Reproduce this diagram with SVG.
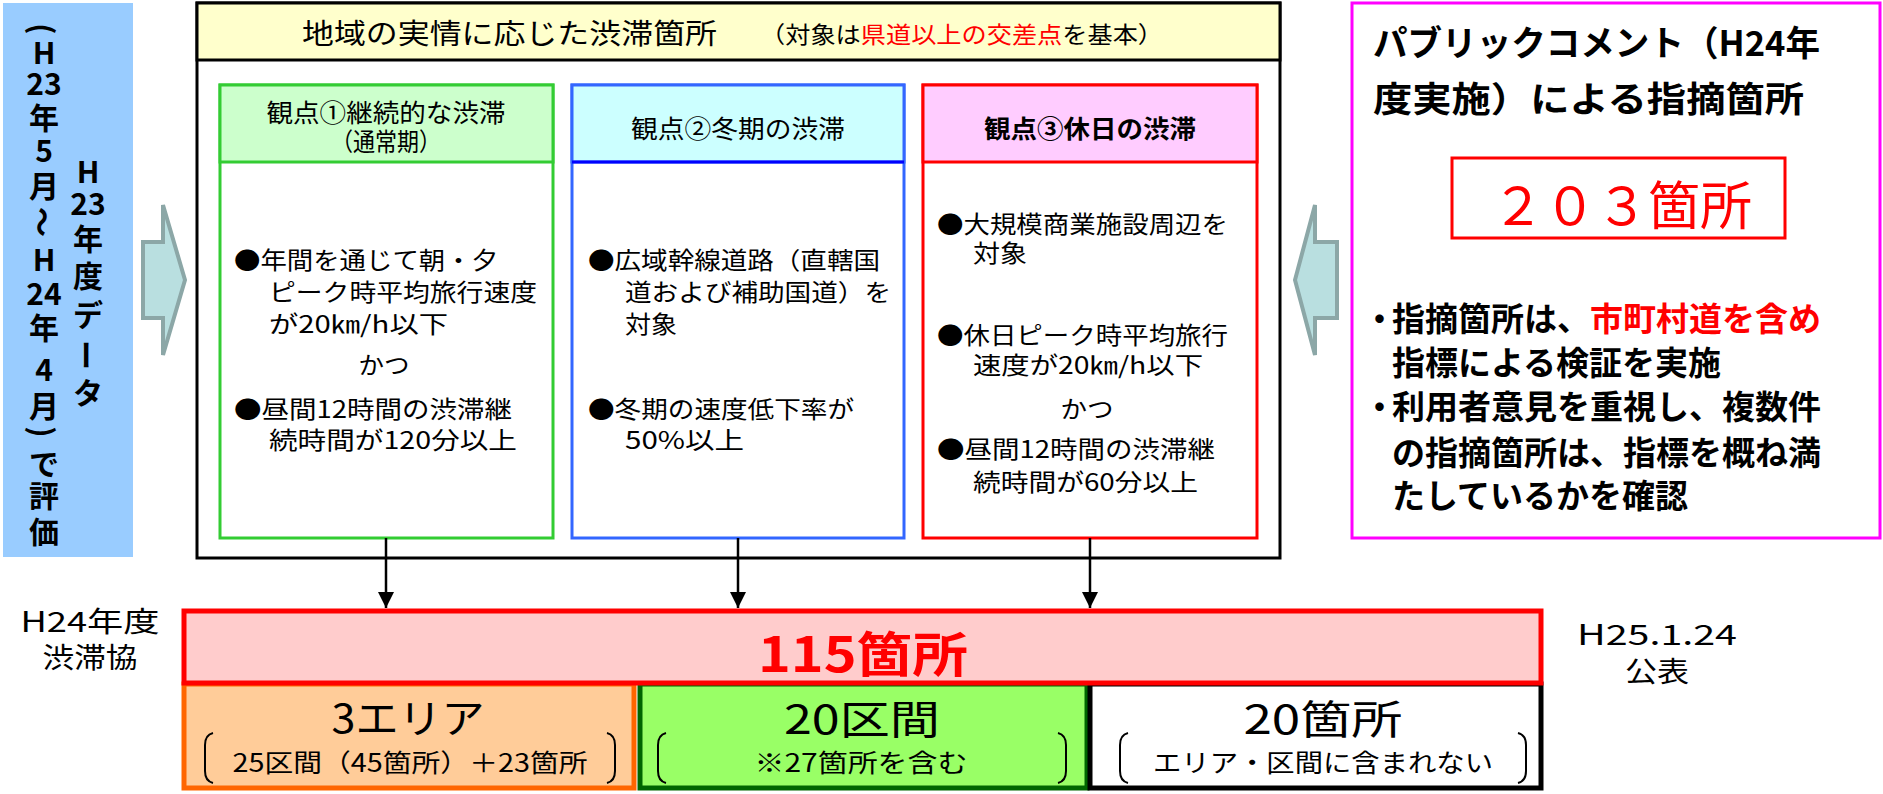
<svg xmlns="http://www.w3.org/2000/svg" width="1883" height="794" viewBox="0 0 1883 794">
<defs>
<style>
text { font-family: "Noto Sans CJK JP", "Noto Sans", sans-serif; dominant-baseline: central; fill: #000; }
.b { font-weight: bold; }
.m { text-anchor: middle; }
.red { fill: #FF0000; }
.vt { font-size: 30px; font-weight: bold; text-anchor: middle; }
.hd { font-size: 25px; }
.bd { font-size: 24px; }
.big { font-size: 40px; }
.sm { font-size: 25px; }
.lbl { font-size: 28px; }
.pk { font-size: 33px; font-weight: bold; }
.conn { stroke: #000; stroke-width: 2.5; fill: none; }
.brk { stroke: #000; stroke-width: 2; fill: none; }
.fat { fill: #B9DFE0; stroke: #8CA7A7; stroke-width: 4; stroke-linejoin: miter; }
</style>
<marker id="ah" markerUnits="userSpaceOnUse" markerWidth="16" markerHeight="16" refX="16" refY="8" orient="auto">
<path d="M0,0 L16,8 L0,16 z" fill="#000"/>
</marker>
</defs>
<rect width="1883" height="794" fill="#fff"/>

<!-- left blue data box -->
<g id="data-period">
<rect x="3" y="3" width="130" height="554" fill="#99CCFF"/>
<text class="vt" x="44" y="29" transform="rotate(90 44 29)" font-size="34">(</text>
<text class="vt"><tspan x="44" y="51">H</tspan><tspan x="44" y="82">23</tspan><tspan x="44" y="116">年</tspan><tspan x="44" y="149">5</tspan><tspan x="44" y="184">月</tspan></text>
<text class="vt" x="44" y="222" transform="rotate(90 44 222)">～</text>
<text class="vt"><tspan x="44" y="258">H</tspan><tspan x="44" y="292">24</tspan><tspan x="44" y="326">年</tspan><tspan x="44" y="368">4</tspan><tspan x="44" y="404">月</tspan></text>
<text class="vt" x="44" y="432" transform="rotate(90 44 432)" font-size="34">)</text>
<text class="vt"><tspan x="44" y="462">で</tspan><tspan x="44" y="494">評</tspan><tspan x="44" y="530">価</tspan></text>
<text class="vt"><tspan x="88" y="170">H</tspan><tspan x="88" y="202">23</tspan><tspan x="88" y="237">年</tspan><tspan x="88" y="274">度</tspan><tspan x="88" y="313">デ</tspan></text>
<text class="vt" x="88" y="355" transform="rotate(90 88 355)">ー</text>
<text class="vt" x="88" y="391">タ</text>
</g>

<g id="arrow-in-left">
<polygon class="fat" points="143,242 163,242 163,205 185,280 163,355 163,318 143,318"/>
</g>

<!-- main box -->
<g id="main-box">
<rect x="197" y="3" width="1083" height="555" fill="#fff" stroke="#000" stroke-width="3"/>
<rect x="197" y="3" width="1083" height="57" fill="#FFFFCC" stroke="#000" stroke-width="3"/>
<text x="302" y="32" font-size="28" textLength="415" lengthAdjust="spacingAndGlyphs">地域の実情に応じた渋滞箇所</text>
<text x="760" y="33" font-size="23" textLength="403" lengthAdjust="spacingAndGlyphs">（対象は<tspan class="red">県道以上の交差点</tspan>を基本）</text>
</g>

<g id="view1">
<rect x="220" y="85" width="333" height="453" fill="#fff" stroke="#33CC33" stroke-width="3"/>
<rect x="220" y="85" width="333" height="77" fill="#CCFFCC" stroke="#33CC33" stroke-width="3"/>
<text class="hd m" x="386" y="111" textLength="239" lengthAdjust="spacingAndGlyphs">観点①継続的な渋滞</text>
<text class="hd m" x="386" y="140" textLength="110" lengthAdjust="spacingAndGlyphs">（通常期）</text>
<text class="bd" x="234" y="258" textLength="264" lengthAdjust="spacingAndGlyphs">●年間を通じて朝・夕</text>
<text class="bd" x="269" y="290" textLength="268" lengthAdjust="spacingAndGlyphs">ピーク時平均旅行速度</text>
<text class="bd" x="269" y="322" textLength="179" lengthAdjust="spacingAndGlyphs">が20㎞/h以下</text>
<text class="bd m" x="384" y="363" textLength="51" lengthAdjust="spacingAndGlyphs">かつ</text>
<text class="bd" x="234" y="407" textLength="278" lengthAdjust="spacingAndGlyphs">●昼間12時間の渋滞継</text>
<text class="bd" x="269" y="438" textLength="248" lengthAdjust="spacingAndGlyphs">続時間が120分以上</text>
</g>

<g id="view2">
<rect x="572" y="85" width="332" height="453" fill="#fff" stroke="#3366FF" stroke-width="3"/>
<rect x="572" y="85" width="332" height="77" fill="#CCFFFF" stroke="#3366FF" stroke-width="3"/>
<line x1="572" y1="162" x2="904" y2="162" stroke="#0000FF" stroke-width="3"/>
<text class="hd m" x="738" y="127" textLength="214" lengthAdjust="spacingAndGlyphs">観点②冬期の渋滞</text>
<text class="bd" x="588" y="258" textLength="292" lengthAdjust="spacingAndGlyphs">●広域幹線道路（直轄国</text>
<text class="bd" x="625" y="290" textLength="266" lengthAdjust="spacingAndGlyphs">道および補助国道）を</text>
<text class="bd" x="625" y="322" textLength="52" lengthAdjust="spacingAndGlyphs">対象</text>
<text class="bd" x="588" y="407" textLength="266" lengthAdjust="spacingAndGlyphs">●冬期の速度低下率が</text>
<text class="bd" x="625" y="438" textLength="119" lengthAdjust="spacingAndGlyphs">50%以上</text>
</g>

<g id="view3">
<rect x="923" y="85" width="334" height="453" fill="#fff" stroke="#FF0000" stroke-width="3"/>
<rect x="923" y="85" width="334" height="77" fill="#FFCCFF" stroke="#FF0000" stroke-width="3"/>
<text class="hd m b" x="1090" y="127" textLength="212" lengthAdjust="spacingAndGlyphs">観点③休日の渋滞</text>
<text class="bd" x="937" y="222" textLength="291" lengthAdjust="spacingAndGlyphs">●大規模商業施設周辺を</text>
<text class="bd" x="973" y="251" textLength="54" lengthAdjust="spacingAndGlyphs">対象</text>
<text class="bd" x="937" y="333" textLength="291" lengthAdjust="spacingAndGlyphs">●休日ピーク時平均旅行</text>
<text class="bd" x="973" y="363" textLength="230" lengthAdjust="spacingAndGlyphs">速度が20㎞/h以下</text>
<text class="bd m" x="1087" y="407" textLength="53" lengthAdjust="spacingAndGlyphs">かつ</text>
<text class="bd" x="937" y="447" textLength="278" lengthAdjust="spacingAndGlyphs">●昼間12時間の渋滞継</text>
<text class="bd" x="973" y="480" textLength="225" lengthAdjust="spacingAndGlyphs">続時間が60分以上</text>
</g>

<g id="arrow-in-right">
<polygon class="fat" points="1337,242 1315,242 1315,205 1295,280 1315,355 1315,318 1337,318"/>
</g>

<!-- public comment box -->
<g id="public-comment">
<rect x="1352" y="3" width="528" height="535" fill="#fff" stroke="#FF00FF" stroke-width="3"/>
<text class="b" x="1373" y="40" font-size="35" textLength="447" lengthAdjust="spacingAndGlyphs">パブリックコメント（H24年</text>
<text class="b" x="1373" y="96" font-size="35" textLength="431" lengthAdjust="spacingAndGlyphs">度実施）による指摘箇所</text>
<rect x="1452" y="158" width="333" height="80" fill="none" stroke="#FF0000" stroke-width="3"/>
<text class="red" x="1492" y="202" font-size="52" textLength="260" lengthAdjust="spacingAndGlyphs">２０３箇所</text>
<text class="pk"><tspan x="1363" y="317">・</tspan><tspan x="1392" y="317">指摘箇所は、</tspan><tspan class="red">市町村道を含め</tspan></text>
<text class="pk" x="1392" y="361">指標による検証を実施</text>
<text class="pk"><tspan x="1363" y="405">・</tspan><tspan x="1392" y="405">利用者意見を重視し、複数件</tspan></text>
<text class="pk" x="1392" y="451">の指摘箇所は、指標を概ね満</text>
<text class="pk" x="1392" y="494">たしているかを確認</text>
</g>

<!-- connectors -->
<g id="connectors">
<line class="conn" x1="386" y1="538" x2="386" y2="608" marker-end="url(#ah)"/>
<line class="conn" x1="738" y1="538" x2="738" y2="608" marker-end="url(#ah)"/>
<line class="conn" x1="1090" y1="538" x2="1090" y2="608" marker-end="url(#ah)"/>
</g>

<!-- result boxes -->
<g id="areas">
<rect x="184" y="684" width="450" height="104" fill="#FFCC99" stroke="#FF6600" stroke-width="5"/>
<text class="big m" x="408" y="716" textLength="153" lengthAdjust="spacingAndGlyphs">3エリア</text>
<path class="brk" d="M213,733 Q205,735 205,745 L205,771 Q205,781 213,783"/>
<path class="brk" d="M607,733 Q615,735 615,745 L615,771 Q615,781 607,783"/>
<text class="sm m" x="410" y="761" textLength="355" lengthAdjust="spacingAndGlyphs">25区間（45箇所）＋23箇所</text>
</g>

<g id="sections">
<rect x="640" y="684" width="447" height="104" fill="#99FF66" stroke="#006600" stroke-width="5"/>
<text class="big m" x="862" y="717" textLength="156" lengthAdjust="spacingAndGlyphs">20区間</text>
<path class="brk" d="M666,733 Q658,735 658,745 L658,771 Q658,781 666,783"/>
<path class="brk" d="M1058,733 Q1066,735 1066,745 L1066,771 Q1066,781 1058,783"/>
<text class="sm m" x="861" y="761" textLength="213" lengthAdjust="spacingAndGlyphs">※27箇所を含む</text>
</g>

<g id="spots">
<rect x="1090" y="684" width="451" height="104" fill="#fff" stroke="#000" stroke-width="5"/>
<text class="big m" x="1323" y="717" textLength="159" lengthAdjust="spacingAndGlyphs">20箇所</text>
<path class="brk" d="M1128,733 Q1120,735 1120,745 L1120,771 Q1120,781 1128,783"/>
<path class="brk" d="M1518,733 Q1526,735 1526,745 L1526,771 Q1526,781 1518,783"/>
<text class="sm m" x="1323" y="761" textLength="340" lengthAdjust="spacingAndGlyphs">エリア・区間に含まれない</text>
</g>

<g id="total">
<rect x="184" y="611" width="1357" height="72" fill="#FFCCCC" stroke="#FF0000" stroke-width="5"/>
<text class="b red m" x="863" y="651" font-size="48" textLength="210" lengthAdjust="spacingAndGlyphs">115箇所</text>
</g>

<g id="label-left">
<text class="lbl m" x="90" y="620" textLength="139" lengthAdjust="spacingAndGlyphs">H24年度</text>
<text class="lbl m" x="90" y="656" textLength="95" lengthAdjust="spacingAndGlyphs">渋滞協</text>
</g>
<g id="label-right">
<text class="lbl m" x="1657" y="633" textLength="160" lengthAdjust="spacingAndGlyphs">H25.1.24</text>
<text class="lbl m" x="1657" y="670" textLength="64" lengthAdjust="spacingAndGlyphs">公表</text>
</g>
</svg>
